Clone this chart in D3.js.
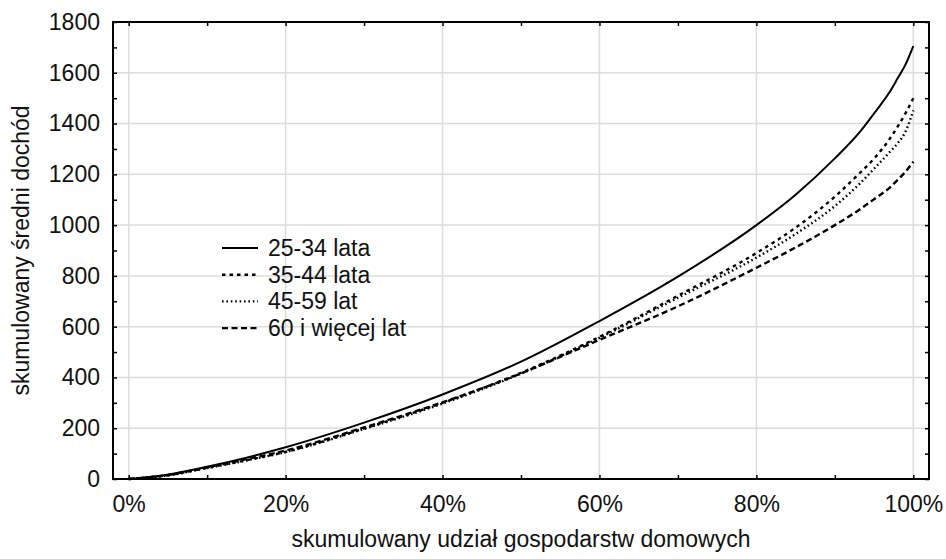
<!DOCTYPE html>
<html>
<head>
<meta charset="utf-8">
<script src="https://cdn.jsdelivr.net/npm/d3@7"></script>
<style>
  body { margin: 0; background: #fff; }
  svg { display: block; font-family: "Liberation Sans", Arial, sans-serif; }
</style>
</head>
<body>
<svg width="946" height="559"></svg>
<script>
// cumulative share of households
const shares = [0, 0.05, 0.1, 0.15, 0.2, 0.3, 0.4, 0.5, 0.6, 0.7, 0.8, 0.85, 0.9, 0.93, 0.95, 0.97, 0.98, 0.99, 1.0];

const age25_34 = [0, 17, 48, 84, 125, 222, 333, 462, 622, 797, 1000, 1120, 1263, 1360, 1440, 1525, 1578, 1632, 1705];
const age35_44 = [0, 15, 44, 74, 107, 199, 300, 418, 560, 722, 890, 990, 1112, 1200, 1262, 1340, 1388, 1440, 1500];
const age45_59 = [0, 14, 43, 73, 106, 197, 297, 415, 556, 714, 872, 965, 1075, 1158, 1222, 1288, 1322, 1368, 1452];
const age60up  = [0, 16, 46, 78, 112, 203, 302, 416, 548, 680, 832, 912, 1000, 1058, 1102, 1148, 1178, 1210, 1250];

const seriesNames = ["25-34 lata", "35-44 lata", "45-59 lat", "60 i więcej lat"];
const seriesValues = [age25_34, age35_44, age45_59, age60up];
const dashes = [null, "3.5,4", "1.6,2.8", "6,3.5"];

const xTicks = [0, 0.2, 0.4, 0.6, 0.8, 1.0];
const yTicks = [0, 200, 400, 600, 800, 1000, 1200, 1400, 1600, 1800];

const margin = {left: 113, right: 17, top: 22, bottom: 80};
const W = 946, H = 559;
const w = W - margin.left - margin.right;
const h = H - margin.top - margin.bottom;
const FS = 23;

const svg = d3.select("svg");
const g = svg.append("g").attr("transform", `translate(${margin.left},${margin.top})`);

const x = d3.scaleLinear().domain([-0.02, 1.02]).range([0, w]);
const y = d3.scaleLinear().domain([0, 1800]).range([h, 0]);

// grid
g.append("g")
    .selectAll("line")
    .data(xTicks)
    .join("line")
    .attr("x1", d => x(d)).attr("x2", d => x(d))
    .attr("y1", 0).attr("y2", h)
    .attr("stroke", "#dcdcdc").attr("stroke-width", 1.5);
g.append("g")
    .selectAll("line")
    .data(yTicks)
    .join("line")
    .attr("x1", 0).attr("x2", w)
    .attr("y1", d => y(d)).attr("y2", d => y(d))
    .attr("stroke", "#dcdcdc").attr("stroke-width", 1.5);

// axes, ticks pointing inward on all four sides
const xMinor = d3.range(0, 1.001, 0.1);
const yMinor = d3.range(0, 1801, 100);
const pct = d3.format(".0%");

const styleAxis = $a => {
    $a.select(".domain").remove();
    $a.selectAll(".tick line").attr("stroke", "#000").attr("stroke-width", 1.5);
    $a.selectAll(".tick text").attr("font-size", FS).attr("fill", "#111");
    return $a
}

styleAxis(g.append("g")
    .attr("transform", `translate(0,${h})`)
    .call(d3.axisBottom(x).tickValues(xMinor).tickSizeInner(-4).tickSizeOuter(0).tickPadding(17)
        .tickFormat(d => (Math.round(d * 10) % 2 === 0) ? pct(d) : "")));
styleAxis(g.append("g")
    .call(d3.axisTop(x).tickValues(xMinor).tickSizeInner(-4).tickSizeOuter(0).tickFormat("")));
styleAxis(g.append("g")
    .call(d3.axisLeft(y).tickValues(yMinor).tickSizeInner(-4).tickSizeOuter(0).tickPadding(13)
        .tickFormat(d => d % 200 === 0 ? d : "")));
styleAxis(g.append("g")
    .attr("transform", `translate(${w},0)`)
    .call(d3.axisRight(y).tickValues(yMinor).tickSizeInner(-4).tickSizeOuter(0).tickFormat("")));

// frame
g.append("rect")
    .attr("width", w).attr("height", h)
    .attr("fill", "none").attr("stroke", "#000").attr("stroke-width", 2);

// curves
const line = d3.line()
    .x((d, i) => x(shares[i]))
    .y(d => y(d))
    .curve(d3.curveMonotoneX);

g.append("g")
    .selectAll("path")
    .data(seriesValues)
    .join("path")
    .attr("d", line)
    .attr("fill", "none")
    .attr("stroke", "#000")
    .attr("stroke-width", (d, i) => i === 0 ? 2 : 2.4)
    .attr("stroke-dasharray", (d, i) => dashes[i]);

// legend
const legend = svg.append("g").attr("transform", "translate(222,248)");
const rows = legend.selectAll("g")
    .data(seriesNames)
    .join("g")
    .attr("transform", (d, i) => `translate(0,${i * 26.7})`);
rows.append("line")
    .attr("x1", 0).attr("x2", 36)
    .attr("stroke", "#000")
    .attr("stroke-width", (d, i) => i === 0 ? 2 : 2.4)
    .attr("stroke-dasharray", (d, i) => dashes[i]);
rows.append("text")
    .attr("x", 46).attr("y", 8)
    .attr("font-size", FS)
    .attr("fill", "#111")
    .text(d => d);

// axis titles
svg.append("text")
    .attr("x", margin.left + w / 2).attr("y", 547)
    .attr("text-anchor", "middle")
    .attr("font-size", FS)
    .attr("fill", "#111")
    .text("skumulowany udział gospodarstw domowych");
svg.append("text")
    .attr("transform", `translate(29,${margin.top + h / 2}) rotate(-90)`)
    .attr("text-anchor", "middle")
    .attr("font-size", FS)
    .attr("fill", "#111")
    .text("skumulowany średni dochód");
</script>
</body>
</html>
